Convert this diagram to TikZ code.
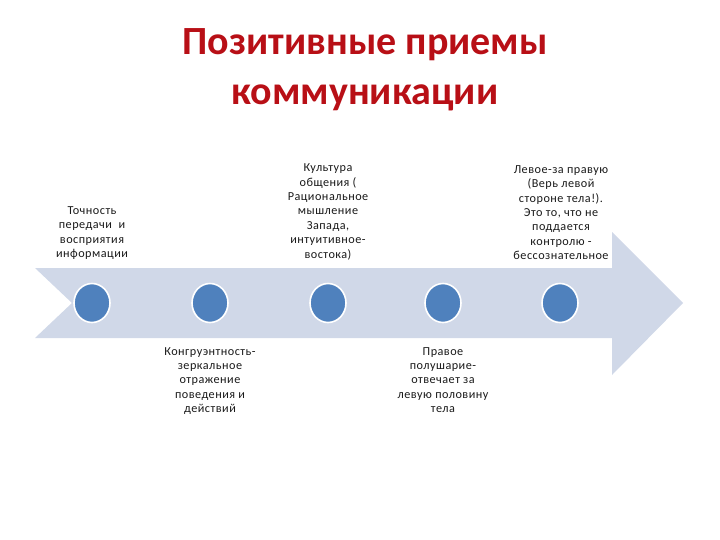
\documentclass[tikz,border=0pt]{standalone}
\usepackage{fontspec}
\usetikzlibrary{shapes.geometric}
\setmainfont{Carlito}
\newfontfamily\smallfont[LetterSpace=4]{Carlito}
\definecolor{titlered}{HTML}{B80F16}
\definecolor{arrowfill}{HTML}{D0D8E8}
\definecolor{dotblue}{HTML}{4F81BD}
\definecolor{txt}{HTML}{1A1A1A}
\begin{document}
\begin{tikzpicture}[x=1pt,y=-1pt,
  dot/.style={ellipse, fill=dotblue, draw=white, line width=1.6pt, minimum width=36pt, minimum height=39pt, inner sep=0pt},
  label/.style={align=center, font=\smallfont\fontsize{12.2}{14.4}\selectfont, text=txt, inner sep=0pt},
  upper/.style={label, anchor=south},
  lower/.style={label, anchor=north}]
\useasboundingbox (0,0) rectangle (720,540);
% title
\node[font=\fontsize{40}{50}\selectfont\bfseries, text=titlered, align=center] (title) at (365,70) {Позитивные приемы\\коммуникации};
% arrow
\fill[arrowfill] (35,268) -- (612,268) -- (612,232) -- (683,303) -- (612,375) -- (612,338) -- (35,338) -- (72,303) -- cycle;
% dots
\node[dot] (c1) at (92,303) {};
\node[dot] (c2) at (210,303) {};
\node[dot] (c3) at (328,303) {};
\node[dot] (c4) at (443,303) {};
\node[dot] (c5) at (560,303) {};
% texts
\node[upper] (t1) at (92,260) {Точность\\передачи \ и\\восприятия\\информации};
\node[upper] (t3) at (328,260) {Культура\\общения (\\Рациональное\\мышление\\Запада,\\интуитивное-\\востока)};
\node[upper] (t5) at (561,260) {Левое-за правую\\(Верь левой\\стороне тела!).\\Это то, что не\\поддается\\контролю -\\бессознательное};
\node[lower] (t2) at (210,347) {Конгруэнтность-\\зеркальное\\отражение\\поведения и\\действий};
\node[lower] (t4) at (443,347) {Правое\\полушарие-\\отвечает за\\левую половину\\тела};
\end{tikzpicture}
\end{document}
